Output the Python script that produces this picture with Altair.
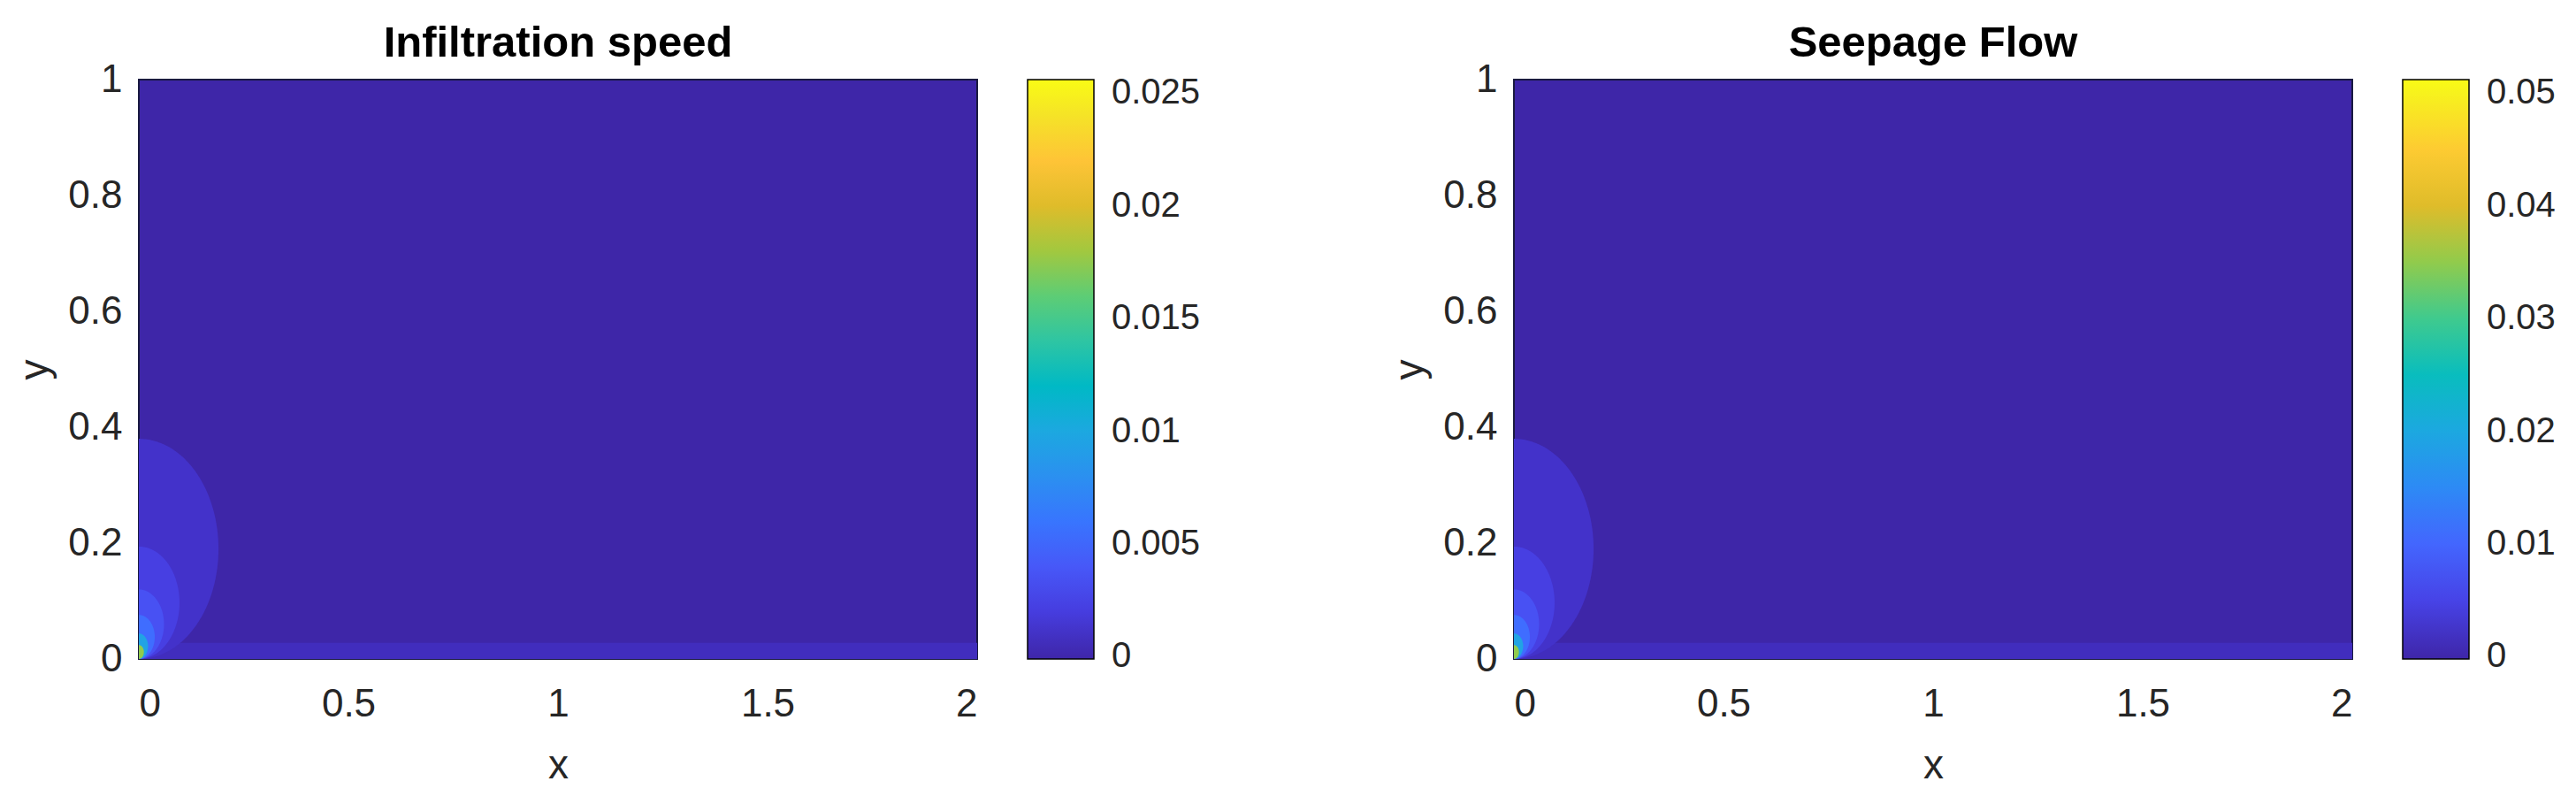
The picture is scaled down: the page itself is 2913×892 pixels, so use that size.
import altair as alt
import numpy as np
import pandas as pd

# ---- data ----
titles = ["Infiltration speed", "Seepage Flow"]
x_ticks = [0, 0.5, 1, 1.5, 2]
y_ticks = [0, 0.2, 0.4, 0.6, 0.8, 1]
cbar_min = [-0.0001, -0.0002]
cbar_max = [0.0256, 0.0512]
cbar_ticks_left = [0, 0.005, 0.01, 0.015, 0.02, 0.025]
cbar_ticks_right = [0, 0.01, 0.02, 0.03, 0.04, 0.05]
# filled-contour bands near the origin: contour radius (circle tangent to y=0 at origin) and level
band_radius = [0.19, 0.097, 0.06, 0.038, 0.022, 0.012]
band_level_left = [0.0011, 0.0022, 0.0035, 0.0055, 0.0095, 0.0175]
band_level_right = [0.0022, 0.0044, 0.0070, 0.0110, 0.0190, 0.0350]
# thin band along the bottom edge (height in y, level)
strip_height = 0.028
strip_level_left = 0.0006
strip_level_right = 0.0012

# parula colormap stops
PARULA_RGB = [
    (0.2422, 0.1504, 0.6603), (0.2504, 0.1650, 0.7076), (0.2578, 0.1818, 0.7511),
    (0.2647, 0.1978, 0.7952), (0.2706, 0.2147, 0.8364), (0.2751, 0.2342, 0.8710),
    (0.2783, 0.2559, 0.8991), (0.2803, 0.2782, 0.9221), (0.2813, 0.3006, 0.9414),
    (0.2810, 0.3228, 0.9579), (0.2795, 0.3447, 0.9717), (0.2760, 0.3667, 0.9829),
    (0.2699, 0.3892, 0.9906), (0.2602, 0.4123, 0.9952), (0.2440, 0.4358, 0.9988),
    (0.2206, 0.4603, 0.9973), (0.1963, 0.4847, 0.9892), (0.1834, 0.5074, 0.9798),
    (0.1786, 0.5289, 0.9682), (0.1764, 0.5499, 0.9520), (0.1687, 0.5703, 0.9359),
    (0.1540, 0.5902, 0.9218), (0.1460, 0.6091, 0.9079), (0.1380, 0.6276, 0.8973),
    (0.1248, 0.6459, 0.8883), (0.1113, 0.6635, 0.8763), (0.0952, 0.6798, 0.8598),
    (0.0689, 0.6948, 0.8394), (0.0297, 0.7082, 0.8163), (0.0036, 0.7203, 0.7917),
    (0.0067, 0.7312, 0.7660), (0.0433, 0.7411, 0.7394), (0.0964, 0.7500, 0.7120),
    (0.1408, 0.7584, 0.6842), (0.1717, 0.7670, 0.6554), (0.1938, 0.7758, 0.6251),
    (0.2161, 0.7843, 0.5923), (0.2470, 0.7918, 0.5567), (0.2906, 0.7973, 0.5188),
    (0.3406, 0.8008, 0.4789), (0.3909, 0.8029, 0.4354), (0.4456, 0.8024, 0.3909),
    (0.5044, 0.7993, 0.3480), (0.5616, 0.7942, 0.3045), (0.6174, 0.7876, 0.2612),
    (0.6720, 0.7793, 0.2227), (0.7242, 0.7698, 0.1910), (0.7738, 0.7598, 0.1646),
    (0.8203, 0.7498, 0.1535), (0.8634, 0.7406, 0.1596), (0.9035, 0.7330, 0.1774),
    (0.9393, 0.7288, 0.2100), (0.9728, 0.7298, 0.2394), (0.9956, 0.7434, 0.2371),
    (0.9970, 0.7659, 0.2199), (0.9952, 0.7893, 0.2028), (0.9892, 0.8136, 0.1885),
    (0.9786, 0.8386, 0.1766), (0.9676, 0.8639, 0.1643), (0.9610, 0.8890, 0.1537),
    (0.9597, 0.9135, 0.1423), (0.9628, 0.9373, 0.1265), (0.9691, 0.9606, 0.1064),
    (0.9769, 0.9839, 0.0805),
]
PARULA = ["#%02x%02x%02x" % tuple(int(round(c * 255)) for c in rgb) for rgb in PARULA_RGB]

FONT = "Liberation Sans"
TXT = "#262626"


def band_frame(levels):
    rows = []
    for i, (r, lv) in enumerate(zip(band_radius, levels)):
        for t in np.linspace(0, np.pi / 2, 90):
            xx = r * np.sin(t)
            h = r * np.cos(t)
            rows.append({"band": i, "x": xx, "ylo": r - h, "yhi": r + h, "level": lv})
    return pd.DataFrame(rows)


def panel(title, levels, strip_level, vmin, vmax, cticks):
    df = band_frame(levels)
    strip = pd.DataFrame({"x": [x_ticks[0], x_ticks[-1]], "ylo": [0.0, 0.0],
                          "yhi": [strip_height, strip_height],
                          "level": [strip_level, strip_level]})
    cscale = alt.Scale(domain=[vmin, vmax], range=PARULA)
    xs = alt.Scale(domain=[0, 2], nice=False, zero=False)
    ys = alt.Scale(domain=[0, 1], nice=False, zero=False)
    xaxis = alt.Axis(values=x_ticks, format="~g", title="x")
    yaxis = alt.Axis(values=y_ticks, format="~g", title="y")
    legend = alt.Legend(
        values=cticks, format="~g", title=None, orient="none",
        legendX=1005, legendY=0, direction="vertical",
        gradientLength=655, gradientThickness=75,
        gradientStrokeColor="#000000", gradientStrokeWidth=1.5,
        labelFontSize=40, labelFont=FONT, labelColor=TXT, labelOffset=20,
        padding=0,
    )

    def enc(ch):
        return ch.encode(
            x=alt.X("x:Q", scale=xs, axis=xaxis),
            y=alt.Y("ylo:Q", scale=ys, axis=yaxis),
            y2="yhi:Q",
            color=alt.Color("level:Q", scale=cscale, legend=legend),
        )

    layers = [enc(alt.Chart(strip).mark_area(orient="vertical"))]
    for i in range(len(band_radius)):
        sub = df[df["band"] == i]
        layers.append(enc(alt.Chart(sub).mark_area(orient="vertical", interpolate="linear")))
    return alt.layer(*layers).properties(
        width=948, height=655,
        title=alt.TitleParams(title, fontSize=49, font=FONT, fontWeight="bold",
                              color="#000000", anchor="middle", offset=-6, frame="group"),
    )


left = panel(titles[0], band_level_left, strip_level_left, cbar_min[0], cbar_max[0],
             cbar_ticks_left)
right = panel(titles[1], band_level_right, strip_level_right, cbar_min[1], cbar_max[1],
              cbar_ticks_right)

chart = alt.hconcat(left, right, spacing=607, bounds="flush").resolve_scale(
    color="independent"
).properties(padding={"left": 7, "top": 16, "right": 0, "bottom": 0}).configure_view(
    fill=PARULA[0], stroke="#1a1a40", strokeWidth=2
).configure_axis(
    grid=False, domain=False, tickSize=0, labelFont=FONT, labelFontSize=44,
    labelColor=TXT, titleFont=FONT, titleFontSize=46, titleFontWeight="normal",
    titleColor=TXT,
).configure_axisX(labelPadding=29, titlePadding=25).configure_axisY(
    labelPadding=19, titlePadding=13
)

chart.save("out.html", embed_options={"renderer": "svg", "actions": False})
